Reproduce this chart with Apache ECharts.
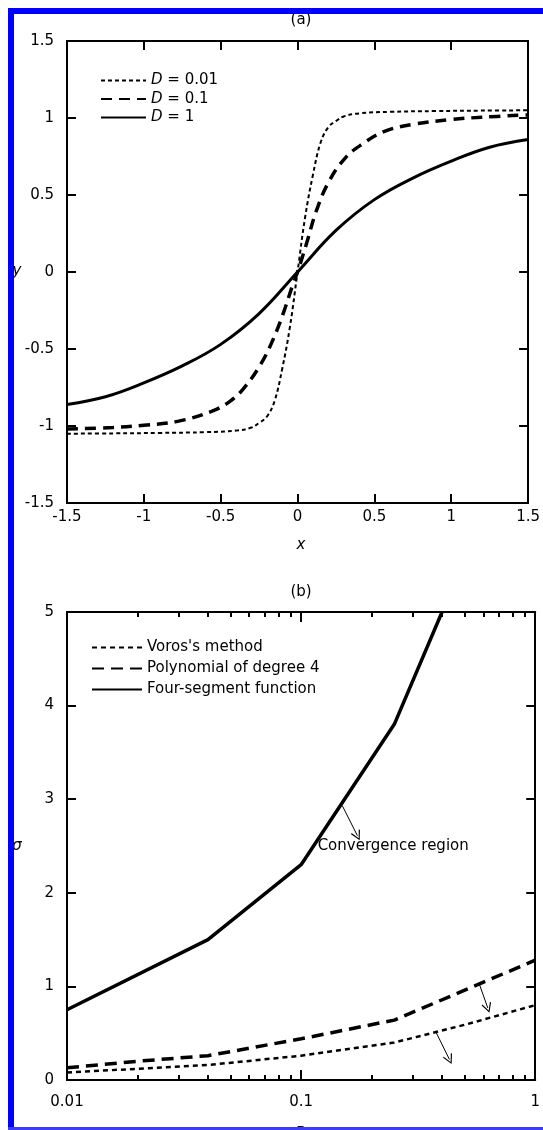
<!DOCTYPE html>
<html>
<head>
<meta charset="utf-8">
<script src="https://cdn.jsdelivr.net/npm/echarts@6/dist/echarts.min.js"></script>
<style>
  html, body { margin: 0; padding: 0; background: #fff; }
  #main { width: 543px; height: 1130px; }
</style>
</head>
<body>
<div id="main"></div>
<script>
// ---------- Panel (a): y(x) profiles for three values of D ----------
const xD001 = [-1.5, -1.2, -0.9, -0.6, -0.4, -0.3, -0.25, -0.2, -0.15, -0.1, -0.05, 0,
               0.05, 0.1, 0.15, 0.2, 0.25, 0.3, 0.4, 0.6, 0.9, 1.2, 1.5];
const yD001 = [-1.05, -1.048, -1.045, -1.04, -1.03, -1.01, -0.98, -0.94, -0.84, -0.63, -0.36, 0,
               0.36, 0.63, 0.84, 0.94, 0.98, 1.01, 1.03, 1.04, 1.045, 1.048, 1.05];

const xD01 = [-1.5, -1.2, -1.0, -0.78, -0.56, -0.44, -0.35, -0.24, -0.16, -0.09, -0.03, 0,
              0.06, 0.12, 0.2, 0.31, 0.42, 0.57, 0.76, 1.0, 1.2, 1.5];
const yD01 = [-1.02, -1.01, -0.995, -0.97, -0.905, -0.84, -0.755, -0.60, -0.44, -0.26, -0.08, 0,
              0.19, 0.39, 0.58, 0.74, 0.83, 0.915, 0.96, 0.99, 1.005, 1.02];

const xD1 = [-1.5, -1.25, -1.0, -0.75, -0.5, -0.25, 0, 0.25, 0.5, 0.75, 1.0, 1.25, 1.5];
const yD1 = [-0.86, -0.81, -0.72, -0.61, -0.47, -0.27, 0, 0.27, 0.47, 0.61, 0.72, 0.81, 0.86];

// ---------- Panel (b): sigma versus D (log scale) ----------
const dVoros = [0.01, 0.04, 0.1, 0.25, 0.5, 1];
const sVoros = [0.08, 0.16, 0.26, 0.40, 0.59, 0.80];

const dPoly = [0.01, 0.02, 0.04, 0.1, 0.25, 0.5, 1];
const sPoly = [0.13, 0.20, 0.26, 0.44, 0.64, 0.96, 1.28];

const dFour = [0.01, 0.04, 0.1, 0.25, 0.4];
const sFour = [0.75, 1.5, 2.3, 3.8, 5.0];

// arrows pointing into the convergence region: [from, to] in (D, sigma)
const arrowFour  = [[0.15, 2.93], [0.174, 2.61]];
const arrowPoly  = [[0.578, 1.02], [0.627, 0.77]];
const arrowVoros = [[0.377, 0.51], [0.43, 0.22]];

const regionLabelAt = [0.112, 2.5];

const majorD = [0.01, 0.1, 1];
const minorD = [0.02, 0.03, 0.04, 0.05, 0.06, 0.07, 0.08, 0.09,
                0.2, 0.3, 0.4, 0.5, 0.6, 0.7, 0.8, 0.9];

// ---------- helpers ----------
const FONT = 'DejaVu Sans';
const pairs = (xs, ys) => xs.map((x, i) => [x, ys[i]]);
const BLACK = '#000';

function valueAxis(gridIndex, position, showLabel, extra) {
  return Object.assign({
    type: 'value',
    gridIndex,
    position,
    splitLine: { show: false },
    axisLine: { show: true, onZero: false, lineStyle: { color: BLACK, width: 2 } },
    axisTick: { show: true, inside: true, length: 9, lineStyle: { color: BLACK, width: 2 } },
    axisLabel: { show: showLabel, color: BLACK, fontFamily: FONT, fontSize: 15 }
  }, extra);
}

function logAxis(position, ticks, tickLen, showLine, showLabel, margin) {
  return {
    type: 'log',
    logBase: 10,
    gridIndex: 1,
    position,
    min: 0.01,
    max: 1,
    splitLine: { show: false },
    minorTick: { show: false },
    axisLine: { show: showLine, onZero: false, lineStyle: { color: BLACK, width: 2 } },
    axisTick: { show: true, inside: true, length: tickLen, customValues: ticks,
                lineStyle: { color: BLACK, width: 2 } },
    axisLabel: { show: showLabel, customValues: majorD, margin,
                 color: BLACK, fontFamily: FONT, fontSize: 15,
                 formatter: v => String(+(+v).toPrecision(3)) }
  };
}

const fmtA = v => String(+(+v).toFixed(2));

const arrowHead = 'path://M5,0 L10,10 L9,10.8 L5,2.4 L1,10.8 L0,10 Z';

const legendText = { color: BLACK, fontFamily: FONT, fontSize: 15 };

const option = {
  animation: false,
  backgroundColor: '#fff',
  textStyle: { fontFamily: FONT, color: BLACK },
  grid: [
    { left: 67, top: 41, width: 468, height: 462, containLabel: false },
    { left: 67, top: 612, width: 469, height: 468, containLabel: false }
  ],
  xAxis: [
    valueAxis(0, 'bottom', true, { min: -1.5, max: 1.5, interval: 0.5,
      axisLabel: { show: true, margin: 7, color: BLACK, fontFamily: FONT, fontSize: 15, formatter: fmtA } }),
    valueAxis(0, 'top', false, { min: -1.5, max: 1.5, interval: 0.5 }),
    logAxis('bottom', majorD, 10, true, true, 15),
    logAxis('bottom', minorD, 5, false, false, 15),
    logAxis('top', majorD, 10, true, false, 15),
    logAxis('top', minorD, 5, false, false, 15)
  ],
  yAxis: [
    valueAxis(0, 'left', true, { min: -1.5, max: 1.5, interval: 0.5,
      axisLabel: { show: true, margin: 13, color: BLACK, fontFamily: FONT, fontSize: 15, formatter: fmtA } }),
    valueAxis(0, 'right', false, { min: -1.5, max: 1.5, interval: 0.5 }),
    valueAxis(1, 'left', true, { min: 0, max: 5, interval: 1,
      axisLabel: { show: true, margin: 13, color: BLACK, fontFamily: FONT, fontSize: 15, formatter: fmtA } }),
    valueAxis(1, 'right', false, { min: 0, max: 5, interval: 1 })
  ],
  legend: [
    {
      data: ['D = 0.01', 'D = 0.1', 'D = 1'],
      orient: 'vertical', left: 95, top: 68,
      itemWidth: 45, itemHeight: 14, itemGap: 3.5,
      selectedMode: false,
      itemStyle: { opacity: 0 },
      textStyle: Object.assign({}, legendText, {
        rich: { i: { fontStyle: 'italic', fontFamily: FONT, fontSize: 15, color: BLACK } } }),
      formatter: name => '{i|D}' + name.slice(1)
    },
    {
      data: ["Voros's method", 'Polynomial of degree 4', 'Four-segment function'],
      orient: 'vertical', left: 86, top: 635,
      itemWidth: 50, itemHeight: 14, itemGap: 6,
      selectedMode: false,
      itemStyle: { opacity: 0 },
      textStyle: legendText
    }
  ],
  series: [
    { name: 'D = 0.01', type: 'line', xAxisIndex: 0, yAxisIndex: 0,
      data: pairs(xD001, yD001), symbol: 'none', smooth: 0.4,
      lineStyle: { color: BLACK, width: 2, type: [4, 3] }, itemStyle: { color: BLACK } },
    { name: 'D = 0.1', type: 'line', xAxisIndex: 0, yAxisIndex: 0,
      data: pairs(xD01, yD01), symbol: 'none', smooth: 0.4,
      lineStyle: { color: BLACK, width: 3.5, type: [11, 7] }, itemStyle: { color: BLACK } },
    { name: 'D = 1', type: 'line', xAxisIndex: 0, yAxisIndex: 0,
      data: pairs(xD1, yD1), symbol: 'none', smooth: 0.4,
      lineStyle: { color: BLACK, width: 3 }, itemStyle: { color: BLACK } },

    { name: "Voros's method", type: 'line', xAxisIndex: 2, yAxisIndex: 2,
      data: pairs(dVoros, sVoros), symbol: 'none',
      lineStyle: { color: BLACK, width: 2.5, type: [5, 4] }, itemStyle: { color: BLACK } },
    { name: 'Polynomial of degree 4', type: 'line', xAxisIndex: 2, yAxisIndex: 2,
      data: pairs(dPoly, sPoly), symbol: 'none',
      lineStyle: { color: BLACK, width: 3.5, type: [12, 7] }, itemStyle: { color: BLACK } },
    { name: 'Four-segment function', type: 'line', xAxisIndex: 2, yAxisIndex: 2,
      data: pairs(dFour, sFour), symbol: 'none',
      lineStyle: { color: BLACK, width: 3.5 }, itemStyle: { color: BLACK } },

    { name: 'arrows', type: 'lines', coordinateSystem: 'cartesian2d',
      xAxisIndex: 2, yAxisIndex: 2, silent: true,
      symbol: ['none', arrowHead], symbolSize: 10,
      lineStyle: { color: BLACK, width: 1, opacity: 1 },
      itemStyle: { color: BLACK },
      data: [ { coords: arrowFour }, { coords: arrowPoly }, { coords: arrowVoros } ] },

    { name: 'region', type: 'scatter', xAxisIndex: 2, yAxisIndex: 2, silent: true,
      symbolSize: 0, data: [regionLabelAt],
      itemStyle: { opacity: 1, color: BLACK },
      label: { show: true, position: 'right', distance: 5, formatter: 'Convergence region',
               color: BLACK, opacity: 1, fontFamily: FONT, fontSize: 15 } }
  ],
  graphic: [
    { type: 'text', x: 301, y: 20, z: 10,
      style: { text: '(a)', font: '15px "DejaVu Sans"', fill: BLACK, align: 'center', verticalAlign: 'middle' } },
    { type: 'text', x: 17, y: 271, z: 10,
      style: { text: 'y', font: 'italic 15px "DejaVu Sans"', fill: BLACK, align: 'center', verticalAlign: 'middle' } },
    { type: 'text', x: 301, y: 545, z: 10,
      style: { text: 'x', font: 'italic 15px "DejaVu Sans"', fill: BLACK, align: 'center', verticalAlign: 'middle' } },
    { type: 'text', x: 301, y: 592, z: 10,
      style: { text: '(b)', font: '15px "DejaVu Sans"', fill: BLACK, align: 'center', verticalAlign: 'middle' } },
    { type: 'text', x: 17, y: 846, z: 10,
      style: { text: 'σ', font: 'italic 15px "DejaVu Sans"', fill: BLACK, align: 'center', verticalAlign: 'middle' } },
    { type: 'text', x: 301, y: 1134, z: 10,
      style: { text: 'D', font: 'italic 15px "DejaVu Sans"', fill: BLACK, align: 'center', verticalAlign: 'middle' } },
    // blue frame
    { type: 'rect', z: 100, shape: { x: 8, y: 8, width: 6, height: 1122 }, style: { fill: '#0000ff' } },
    { type: 'rect', z: 100, shape: { x: 8, y: 8, width: 535, height: 6 }, style: { fill: '#0000ff' } },
    { type: 'rect', z: 100, shape: { x: 8, y: 1127, width: 535, height: 3 }, style: { fill: '#3c3cff' } }
  ]
};

const chart = echarts.init(document.getElementById('main'), null, { renderer: 'canvas' });
chart.setOption(option);
</script>
</body>
</html>
